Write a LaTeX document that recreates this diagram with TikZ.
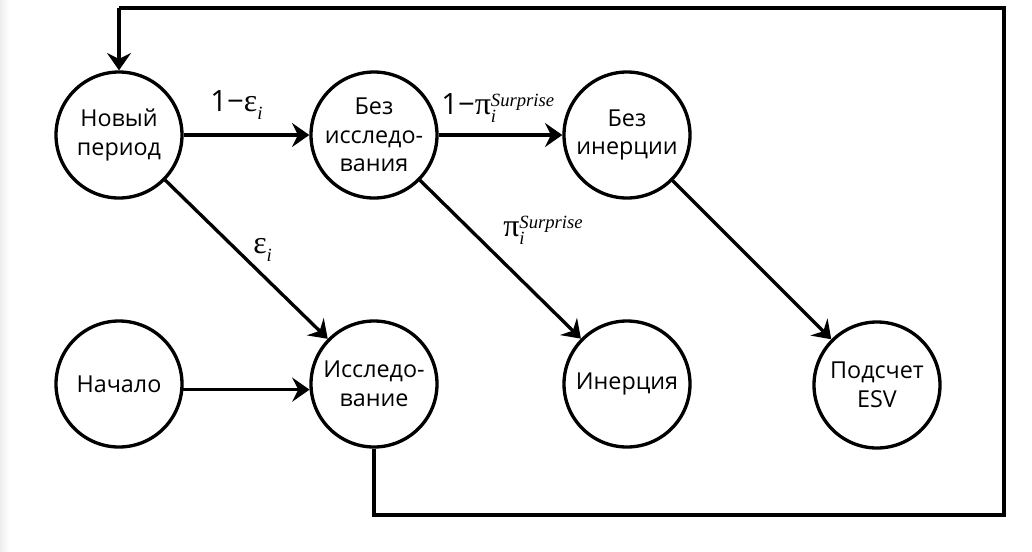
\documentclass[tikz,border=0pt]{standalone}
\usepackage{fontspec}
\setmainfont{Open Sans}
\newfontfamily\gr{Liberation Serif}
\usetikzlibrary{arrows.meta}
\tikzset{
  st/.style={circle,draw,line width=2.5pt,minimum size=94.5pt,inner sep=0pt,align=center,font=\fontsize{17.5}{21.4}\selectfont},
  ar/.style={line width=2.5pt,-{Stealth[length=13pt,width=18pt,inset=4.5pt]}},
  ln/.style={line width=2.5pt},
  lab/.style={anchor=base west,inner sep=0pt,font=\fontsize{22}{24}\selectfont},
}
\newcommand\gsub[2]{{\gr\fontsize{24}{24}\selectfont #1}\raisebox{-6pt}{\gr\itshape\fontsize{14}{14}\selectfont #2}}
\newcommand\gsupsub[3]{{\gr\fontsize{24}{24}\selectfont #1}\rlap{\raisebox{6pt}{\gr\itshape\fontsize{14}{14}\selectfont #2}}\raisebox{-6pt}{\gr\itshape\fontsize{14}{14}\selectfont #3}}
\begin{document}
\begin{tikzpicture}[x=0.75pt,y=-0.75pt]
\useasboundingbox (0,0) rectangle (1032,551);
\fill[white] (0,0) rectangle (1032,551);
\shade[left color=black!7,right color=white] (0,0) rectangle (9,551);

\node[st] (np)  at (119,135) {Новый\\период};
\node[st] (bi)  at (374,135) {Без\\исследо-\\вания};
\node[st] (bin) at (627,135) {Без\\инерции};
\node[st] (st0) at (119,384) {Начало};
\node[st] (ex)  at (374,384) {Исследо-\\вание};
\node[st] (in)  at (627,384) {Инерция};
\node[st] (esv) at (877,385) {Подсчет\\ESV};

\draw[ar] (np) -- (bi);
\draw[ar] (bi) -- (bin);
\draw[ar] (np) -- (ex);
\draw[ar] (bi) -- (in);
\draw[ar] (bin) -- (esv);
\draw[ar] (st0.-5.5) -- (ex.185.5);

\coordinate (c1) at (374,515);
\coordinate (c2) at (1004,515);
\coordinate (c3) at (1004,8);
\coordinate (c4) at (119,8);
\draw[ln] (ex.south) -- (c1) -- (c2) -- (c3) -- (c4);
\draw[ar] (c4) -- (np.north);

\node[lab] (l1) at (210,111) {1−\gsub{ε}{i}};
\node[lab] (l2) at (441,114) {1−\gsupsub{π}{Surprise}{i}};
\node[lab] (l3) at (253,253) {\gsub{ε}{i}};
\node[lab] (l4) at (503,236) {\gsupsub{π}{Surprise}{i}};
\end{tikzpicture}
\end{document}
